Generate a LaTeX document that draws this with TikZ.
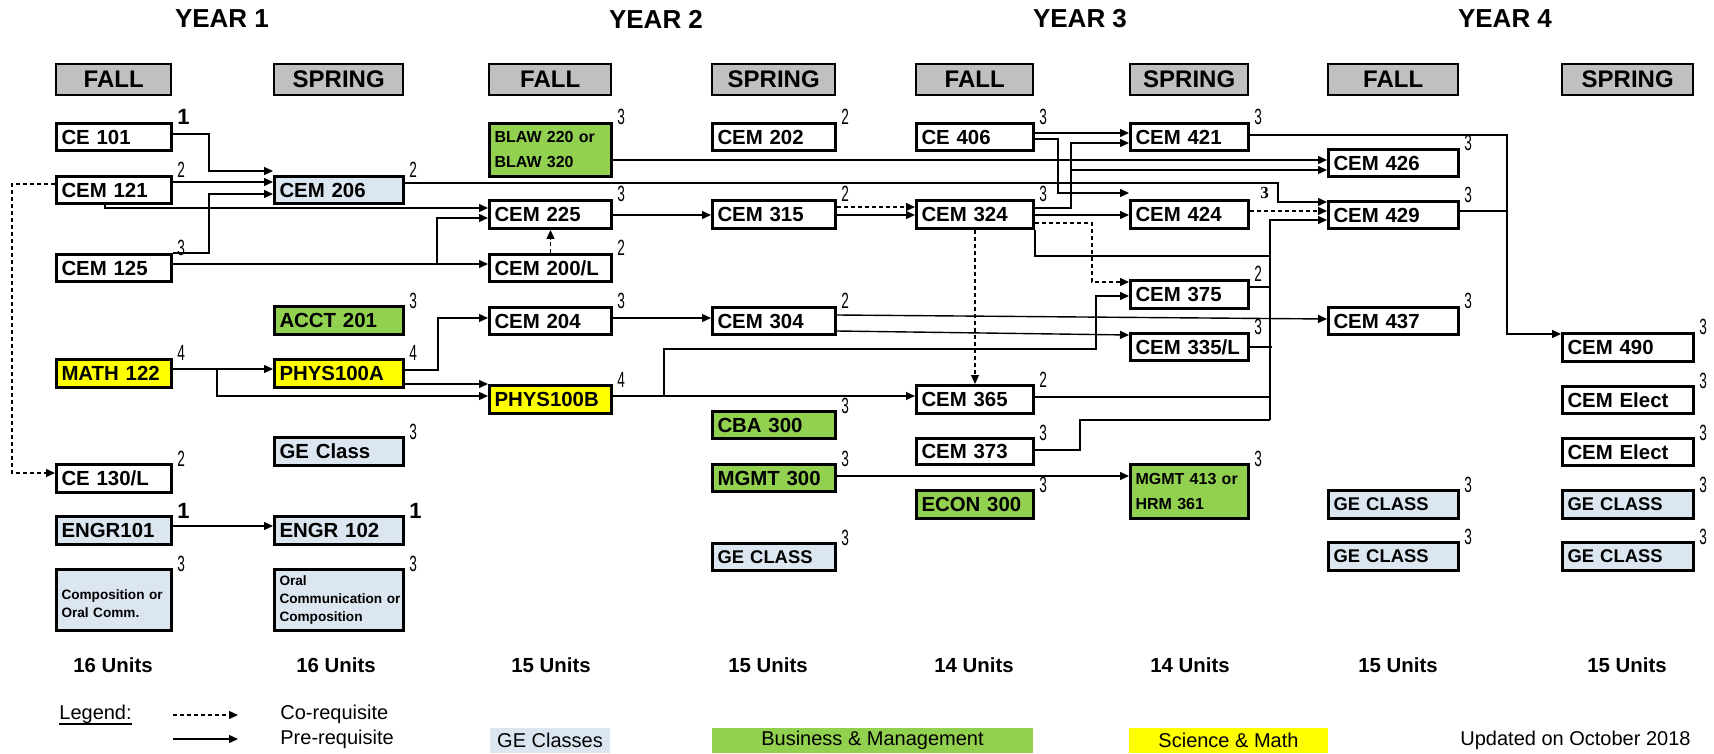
\documentclass[tikz,border=0pt]{standalone}
\usepackage{fontspec}
\usepackage{graphicx}
\setmainfont{Liberation Sans}
\newfontfamily\serifbf{Liberation Serif}
\usetikzlibrary{arrows.meta}
\definecolor{geblue}{HTML}{DCE6F1}
\definecolor{bmgreen}{HTML}{92D050}
\definecolor{smyellow}{HTML}{FFFF00}
\definecolor{hdrgray}{HTML}{C0C0C0}
\newcommand\crd[1]{\scalebox{0.62}[1]{#1}}
% #1 name, #2 style, #3 x1, #4 y1, #5 x2, #6 y2, #7 text, #8 credit
\newcommand\course[8]{%
  \pgfmathsetmacro\cwid{(#5-#3)*0.5-5}%
  \pgfmathsetmacro\chgt{(#6-#4)*0.5}%
  \node[box,#2,text width=\cwid pt,minimum height=\chgt pt,anchor=north west] (#1) at (#3,#4) {#7};
  \node[credit,anchor=base west] (#1c) at ([shift={(4,3)}]#1.north east) {#8};
}
\newcommand\hdr[4]{%
  \pgfmathsetmacro\hwid{(#3-#2)*0.5}%
  \node[hdrbox,minimum width=\hwid pt,anchor=north west] (#1) at (#2,63) {#4};
}
\begin{document}
\begin{tikzpicture}[x=0.5pt,y=-0.5pt,
  box/.style={draw=black,line width=1.5pt,fill=white,inner xsep=2.5pt,inner ysep=0pt,align=left,font=\fontsize{10.2}{12}\selectfont\bfseries},
  small/.style={font=\fontsize{8}{12.5}\selectfont\bfseries},
  tiny/.style={font=\fontsize{6.8}{9}\selectfont\bfseries},
  gec/.style={font=\fontsize{9.2}{11}\selectfont\bfseries},
  gr/.style={fill=bmgreen}, bl/.style={fill=geblue}, ye/.style={fill=smyellow},
  credit/.style={inner sep=0pt,font=\fontsize{11}{11}\selectfont},
  hdrbox/.style={draw=black,line width=1.2pt,fill=hdrgray,inner sep=0pt,minimum height=15.5pt,font=\fontsize{12}{14}\selectfont\bfseries},
  yr/.style={inner sep=0pt,font=\fontsize{13}{15}\selectfont\bfseries},
  units/.style={inner sep=0pt,font=\fontsize{10.2}{12}\selectfont\bfseries},
  leg/.style={inner sep=0pt,font=\fontsize{10}{12}\selectfont},
  legbox/.style={inner sep=0pt,minimum height=12.5pt,font=\fontsize{10}{12}\selectfont},
  ln/.style={line width=0.7pt},
  pre/.style={ln,-{Triangle[length=4.5pt,width=4pt]}},
  co/.style={pre,dash pattern=on 2pt off 1.5pt}]
\fill[white] (0,0) rectangle (1714,754);
\useasboundingbox (0,0) rectangle (1714,754);

% year titles
\node[yr] (yr1) at (222,19) {YEAR 1};
\node[yr] (yr2) at (656,19) {YEAR 2};
\node[yr] (yr3) at (1080,19) {YEAR 3};
\node[yr] (yr4) at (1505,19) {YEAR 4};

% semester headers
\hdr{h1}{55}{170}{FALL}
\hdr{h2}{273}{402}{SPRING}
\hdr{h3}{488}{610}{FALL}
\hdr{h4}{711}{834}{SPRING}
\hdr{h5}{915}{1032}{FALL}
\hdr{h6}{1129}{1247}{SPRING}
\hdr{h7}{1327}{1457}{FALL}
\hdr{h8}{1561}{1692}{SPRING}

% Column 1
\course{CE101}{}{55}{122}{170}{149}{CE 101}{\textbf{1}}
\course{CEM121}{}{55}{175}{170}{202}{CEM 121}{\crd{2}}
\course{CEM125}{}{55}{253}{170}{280}{CEM 125}{\crd{3}}
\course{MATH122}{ye}{55}{358}{170}{386}{MATH 122}{\crd{4}}
\course{CE130L}{}{55}{463}{170}{491}{CE 130/L}{\crd{2}}
\course{ENGR101}{bl}{55}{515}{170}{543}{ENGR101}{\textbf{1}}
\course{COMP}{bl,tiny}{55}{568}{170}{629}{\mbox{}\\Composition or\\Oral Comm.}{\crd{3}}
% Column 2
\course{CEM206}{bl}{273}{175}{402}{202}{CEM 206}{\crd{2}}
\course{ACCT201}{gr}{273}{305}{402}{333}{ACCT 201}{\crd{3}}
\course{PHYS100A}{ye}{273}{358}{402}{386}{PHYS100A}{\crd{4}}
\course{GE1}{bl}{273}{436}{402}{464}{GE Class}{\crd{3}}
\course{ENGR102}{bl}{273}{515}{402}{543}{ENGR 102}{\textbf{1}}
\course{ORAL}{bl,tiny}{273}{568}{402}{629}{Oral\\\mbox{Communication or}\\Composition}{\crd{3}}
% Column 3
\course{BLAW}{gr,small}{488}{122}{610}{175}{BLAW 220 or\\BLAW 320}{\crd{3}}
\course{CEM225}{}{488}{199}{610}{227}{CEM 225}{\crd{3}}
\course{CEM200L}{}{488}{253}{610}{280}{CEM 200/L}{\crd{2}}
\course{CEM204}{}{488}{306}{610}{333}{CEM 204}{\crd{3}}
\course{PHYS100B}{ye}{488}{384}{610}{412}{PHYS100B}{\crd{4}}
% Column 4
\course{CEM202}{}{711}{122}{834}{149}{CEM 202}{\crd{2}}
\course{CEM315}{}{711}{199}{834}{227}{CEM 315}{\crd{2}}
\course{CEM304}{}{711}{306}{834}{333}{CEM 304}{\crd{2}}
\course{CBA300}{gr}{711}{410}{834}{437}{CBA 300}{\crd{3}}
\course{MGMT300}{gr}{711}{463}{834}{490}{MGMT 300}{\crd{3}}
\course{GE2}{bl,gec}{711}{542}{834}{569}{GE CLASS}{\crd{3}}
% Column 5
\course{CE406}{}{915}{122}{1032}{149}{CE 406}{\crd{3}}
\course{CEM324}{}{915}{199}{1032}{227}{CEM 324}{\crd{3}}
\course{CEM365}{}{915}{384}{1032}{412}{CEM 365}{\crd{2}}
\course{CEM373}{}{915}{437}{1032}{463}{CEM 373}{\crd{3}}
\course{ECON300}{gr}{915}{489}{1032}{517}{ECON 300}{\crd{3}}
% Column 6
\course{CEM421}{}{1129}{122}{1247}{149}{CEM 421}{\crd{3}}
\course{CEM424}{}{1129}{199}{1247}{227}{CEM 424}{}
\course{CEM375}{}{1129}{279}{1247}{307}{CEM 375}{\crd{2}}
\course{CEM335L}{}{1129}{332}{1247}{359}{CEM 335/L}{\crd{3}}
\course{MGMT413}{gr,small}{1129}{463}{1247}{517}{MGMT 413 or\\HRM 361}{\crd{3}}
% Column 7
\course{CEM426}{}{1327}{148}{1457}{175}{CEM 426}{\crd{3}}
\course{CEM429}{}{1327}{200}{1457}{227}{CEM 429}{\crd{3}}
\course{CEM437}{}{1327}{306}{1457}{333}{CEM 437}{\crd{3}}
\course{GE3}{bl,gec}{1327}{489}{1457}{517}{GE CLASS}{\crd{3}}
\course{GE4}{bl,gec}{1327}{541}{1457}{569}{GE CLASS}{\crd{3}}
% Column 8
\course{CEM490}{}{1561}{332}{1692}{360}{CEM 490}{\crd{3}}
\course{ELECT1}{}{1561}{385}{1692}{412}{CEM Elect}{\crd{3}}
\course{ELECT2}{}{1561}{437}{1692}{464}{CEM Elect}{\crd{3}}
\course{GE5}{bl,gec}{1561}{489}{1692}{517}{GE CLASS}{\crd{3}}
\course{GE6}{bl,gec}{1561}{541}{1692}{569}{GE CLASS}{\crd{3}}

\node[anchor=base west,inner sep=0pt,font=\serifbf\bfseries\fontsize{8.5}{9}\selectfont] (c424) at ([shift={(10,0)}]CEM424.north east) {3};

% junction coordinates
\coordinate (j1) at (437,264);
\coordinate (j2) at (1071,170);
\coordinate (j3) at (217,369);
\coordinate (j4) at (664,396);
\coordinate (busT) at (1270,256);
\coordinate (busB) at (1270,420);
\coordinate (bus2) at (1507,211);

% connectors
\draw[pre] (CE101.east|-0,134) -| (209,171) -- (CEM206.west|-0,171);
\draw[pre] (CEM121.east|-0,182) -- (CEM206.west|-0,182);
\draw[pre] (CEM125.north east) -| (209,194) -- (CEM206.west|-0,194);
\draw[pre] (105,0|-CEM121.south) |- (CEM225.west|-0,208);
\draw[pre] (CEM125.east|-0,264) -- (CEM200L.west|-0,264);
\draw[pre] (j1) |- (CEM225.west|-0,218);
\draw[co] (CEM121.west|-0,184) -| (12,473) -- (CE130L.west|-0,473);
\draw[pre] (CEM206.east|-0,183) -| (1278,202) -- (CEM429.west|-0,202);
\draw[pre] (BLAW.east|-0,160) -- (CEM426.west|-0,160);
\draw[pre] (CEM225.east|-0,215) -- (CEM315.west|-0,215);
\draw[co] (CEM200L.north) -- (CEM225.south);
\draw[pre] (CEM315.east|-0,215) -- (CEM324.west|-0,215);
\draw[co] (CEM315.east|-0,207) -- (CEM324.west|-0,207);
\draw[pre] (CE406.east|-0,133) -- (CEM421.west|-0,133);
\draw[pre] (CE406.east|-0,139) -| (1058,193) -- (CEM424.west|-0,193);
\draw[pre] (CEM324.east|-0,208) -| (1071,143) -- (CEM421.west|-0,143);
\draw[pre] (j2) -- (CEM426.west|-0,170);
\draw[pre] (CEM324.east|-0,215) -- (CEM424.west|-0,215);
\draw[co] (CEM324.east|-0,223) -| (1092,282) -- (CEM375.west|-0,282);
\draw[co] (CEM324.south) -- (CEM365.north);
\draw[pre] (CEM324.south east) |- (busT) |- (CEM429.west|-0,220);
\draw[ln] (busT) -- (busB);
\draw[ln] (CEM375.east|-0,287) -- (busT|-0,287);
\draw[ln] (CEM335L.east|-0,347) -- (1272,347);
\draw[ln] (CEM365.east|-0,397) -- (busT|-0,397);
\draw[ln] (CEM373.east|-0,450) -| (1080,420) -- (busB);
\draw[co] (CEM424.east|-0,211) -- (CEM429.west|-0,211);
\draw[pre] (CEM421.east|-0,135) -| (1507,334) -- (CEM490.west|-0,334);
\draw[ln] (CEM429.east|-0,211) -- (bus2);
\draw[pre] (CEM304.east|-0,315) -- (CEM437.west|-0,319);
\draw[pre] (CEM304.east|-0,331) -- (CEM335L.west|-0,335);
\draw[pre] (CEM204.east|-0,318) -- (CEM304.west|-0,318);
\draw[pre] (PHYS100A.east|-0,370) -| (438,318) -- (CEM204.west|-0,318);
\draw[pre] (PHYS100A.east|-0,384) -- (PHYS100B.west|-0,384);
\draw[pre] (MATH122.east|-0,369) -- (PHYS100A.west|-0,369);
\draw[pre] (j3) |- (PHYS100B.west|-0,396);
\draw[pre] (PHYS100B.east|-0,396) -- (CEM365.west|-0,396);
\draw[pre] (j4) |- (1096,349) |- (CEM375.west|-0,296);
\draw[pre] (MGMT300.east|-0,476) -- (MGMT413.west|-0,476);
\draw[pre] (ENGR101.east|-0,526) -- (ENGR102.west|-0,526);

% units
\node[units] (u1) at (113,665) {16 Units};
\node[units] (u2) at (336,665) {16 Units};
\node[units] (u3) at (551,665) {15 Units};
\node[units] (u4) at (768,665) {15 Units};
\node[units] (u5) at (974,665) {14 Units};
\node[units] (u6) at (1190,665) {14 Units};
\node[units] (u7) at (1398,665) {15 Units};
\node[units] (u8) at (1627,665) {15 Units};

% legend
\node[leg,anchor=west] (legend) at (59,714) {Legend:};
\draw[line width=1pt] (legend.south west) -- (legend.south east);
\coordinate (ca) at (173,715);
\coordinate (cb) at (238,715);
\draw[co] (ca) -- (cb);
\coordinate (pa) at (173,739);
\coordinate (pb) at (238,739);
\draw[pre] (pa) -- (pb);
\node[leg,anchor=west] (colab) at (280,714) {Co-requisite};
\node[leg,anchor=west] (prelab) at (280,739) {Pre-requisite};
\node[legbox,fill=geblue,minimum width=60pt] (lge) at (550,740.5) {GE Classes};
\node[legbox,fill=bmgreen,minimum width=160.5pt] (lbm) at (872.5,740.5) {Business \& Management};
\node[legbox,fill=smyellow,minimum width=99.5pt] (lsm) at (1228.5,740.5) {Science \& Math};
\node[leg,anchor=west] (upd) at (1460,740) {Updated on October 2018};
\end{tikzpicture}
\end{document}
